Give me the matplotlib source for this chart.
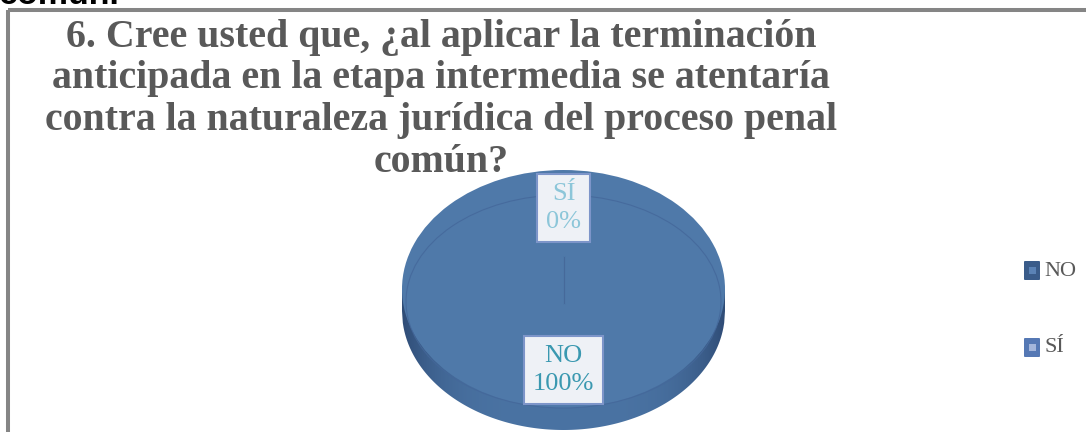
import numpy as np
import matplotlib
matplotlib.use('Agg')
import matplotlib.pyplot as plt
from matplotlib.patches import Rectangle, Ellipse, Polygon, FancyBboxPatch

W, H = 1086, 432

# data
labels = ['NO', 'SÍ']
values = [100, 0]
top_colors = ['#4F79A9', '#5B7FBA']
legend_colors = [('#3A5C8A', '#5B83B6'), ('#5578B4', '#A4B6DB')]
label_colors = ['#3A98B0', '#8CC6D9']

title_lines = ['6. Cree usted que, ¿al aplicar la terminación',
               'anticipada en la etapa intermedia se atentaría',
               'contra la naturaleza jurídica del proceso penal',
               'común?']
title_baselines = [47, 88, 130, 172]

plt.rcParams['font.family'] = ['Liberation Serif', 'DejaVu Serif']

fig = plt.figure(figsize=(W / 100, H / 100), dpi=100)
bg = fig.add_axes([0, 0, 1, 1])
bg.set_xlim(0, W)
bg.set_ylim(H, 0)
bg.axis('off')

# outer frame (chart box, cut at right / bottom)
bg.add_patch(Rectangle((8, 10), W + 40, H + 40, fill=False, ec='#858585', lw=2.9))

# leftover text of the page above the chart
bg.text(-1, 4, 'común.', family=['Liberation Sans', 'DejaVu Sans'], fontweight='bold',
        fontsize=24.5, va='baseline', ha='left', color='black')

# title, fitted to the width of the longest line
fs = 24
renderer = fig.canvas.get_renderer()
t = bg.text(0, 0, title_lines[2], fontsize=fs, fontweight='bold')
w = t.get_window_extent(renderer).width
t.remove()
fs = fs * 793 / w
for line, yb in zip(title_lines, title_baselines):
    bg.text(441, yb, line, ha='center', va='baseline', fontsize=fs,
            fontweight='bold', color='#595959')

# pie axes: ellipse of the top face, disc runs off the bottom
cx, cy, rx, ry, depth = 563.5, 289, 161.5, 119, 22
ax = fig.add_axes([(cx - rx) / W, 0, 2 * rx / W, (H - (cy - ry)) / H])
ybot = -(H - cy) / ry
d = depth / ry

# side of the disc with a horizontal shading
xs = np.linspace(-1, 1, 400)
side = np.column_stack([np.r_[xs, 1, -1], np.r_[-np.sqrt(1 - xs ** 2) - d, 0, 0]])
side_poly = Polygon(side, closed=True, fc='none', ec='none')
ax.add_patch(side_poly)
mid = np.array(matplotlib.colors.to_rgb('#4A73A3'))
edge = np.array(matplotlib.colors.to_rgb('#2F4C76'))
k = np.abs(np.linspace(-1, 1, 400)) ** 4
grad = mid[None, :] * (1 - k[:, None]) + edge[None, :] * k[:, None]
img = ax.imshow(grad[None, :, :], extent=[-1, 1, ybot, 0], aspect='auto', zorder=1)
img.set_clip_path(side_poly)

# top face
wedges, _ = ax.pie(values, colors=top_colors, startangle=90, counterclock=False,
                   radius=1, center=(0, 0), wedgeprops=dict(lw=0, zorder=3))
ax.add_patch(Ellipse((0, -0.105), 1.95, 1.79, fill=False, ec='#44679A', lw=0.8,
                     alpha=0.8, zorder=4))

# slice boundaries and data labels
total = float(sum(values))
cum = 0
for lab, v, col in zip(labels, values, label_colors):
    start = 90 - 360 * cum / total
    ax.plot([0, 0.27 * np.cos(np.radians(start))],
            [-0.12, -0.12 + 0.39 * np.sin(np.radians(start))],
            color='#46699A', lw=0.8, zorder=4)
    midang = np.radians(90 - 360 * (cum + v / 2) / total)
    cum += v
    ax.text(0.68 * np.cos(midang), 0.68 * np.sin(midang), f'{lab}\n{100 * v / total:.0f}%',
            ha='center', va='center', fontsize=19, color=col, linespacing=1.35, zorder=6,
            bbox=dict(boxstyle='square,pad=0.35', fc='#EEF1F6', ec='#7D95C9', lw=1.5))

ax.set_xlim(-1, 1)
ax.set_ylim(ybot, 1)
ax.set_aspect('auto')
ax.axis('off')

# legend
for i, (lab, (c_out, c_in)) in enumerate(zip(labels, legend_colors)):
    y = 271 + 77 * i
    bg.add_patch(FancyBboxPatch((1025, y - 9), 14, 17, boxstyle='round,pad=1',
                                fc=c_out, ec='none'))
    bg.add_patch(Rectangle((1029, y - 4), 7, 7, fc=c_in, ec='none'))
    bg.text(1044, y, lab, va='center', ha='left', fontsize=16, color='#595959')

fig.savefig('out.png', dpi=100)
